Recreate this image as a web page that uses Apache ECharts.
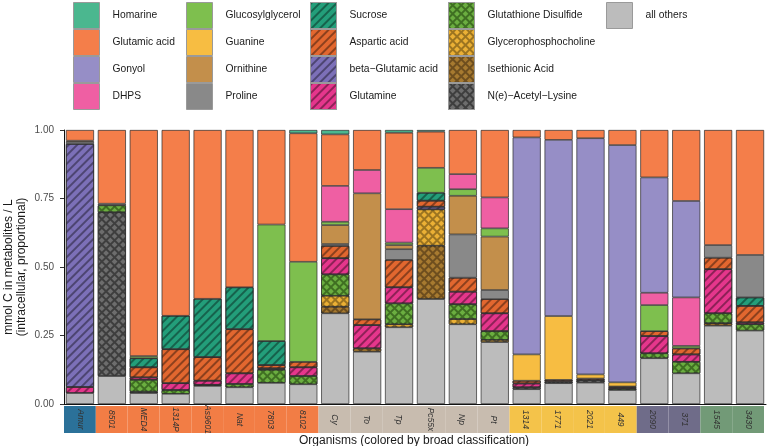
<!DOCTYPE html>
<html><head><meta charset="utf-8">
<script src="https://cdn.jsdelivr.net/npm/echarts@6/dist/echarts.min.js"></script>
<style>html,body{margin:0;padding:0;background:#fff}#c{width:768px;height:446px}</style>
</head><body><div id="c"></div>
<script>
var categories = ['Amur','8501','MED4','1314P','As9601','Nat','7803','8102','Cy','To','Tp','Pc55x','Np','Pt','1314','1771','2021','449','2090','371','1545','3430'];
var groups = ['g1','g2','g2','g2','g2','g2','g2','g2','g3','g3','g3','g3','g3','g3','g4','g4','g4','g4','g5','g5','g6','g6'];
var groupColors = {g1:'#2b7199', g2:'#f27d45', g3:'#c8bcaf', g4:'#f4c34a', g5:'#6f6c89', g6:'#729a77'};

var homarine  = [0,0,0,0,0,0,0,0.012,0.016,0,0.010,0.006,0,0,0,0,0,0,0,0,0,0];
var glutamic  = [0.039,0.269,0.825,0.678,0.616,0.574,0.345,0.469,0.188,0.146,0.279,0.132,0.161,0.246,0.027,0.036,0.030,0.055,0.173,0.259,0.420,0.456];
var gonyol    = [0,0,0,0,0,0,0,0,0,0,0,0,0,0,0.792,0.643,0.862,0.866,0.421,0.352,0,0];
var dhps      = [0,0,0,0,0,0,0,0,0.131,0.085,0.122,0,0.055,0.113,0,0,0,0,0.045,0.177,0,0];
var glucosyl  = [0,0,0.008,0,0,0,0.425,0.365,0.012,0,0.009,0.091,0.024,0.030,0,0,0,0,0.095,0.009,0,0];
var guanine   = [0,0,0,0,0,0,0,0,0,0,0,0,0,0,0.096,0.233,0.015,0.015,0,0,0,0];
var ornithine = [0.004,0,0,0,0,0,0,0,0.069,0.460,0.015,0,0.141,0.195,0,0,0,0,0,0,0,0];
var proline   = [0.008,0.006,0,0,0,0,0,0,0.007,0,0.039,0,0.158,0.033,0,0,0,0,0,0,0.046,0.155];
var sucrose   = [0,0,0.033,0.122,0.213,0.153,0.088,0,0,0,0,0.029,0,0,0,0,0,0,0,0,0,0.031];
var aspartic  = [0,0,0.037,0.124,0.086,0.161,0.012,0.020,0.045,0.021,0.100,0.022,0.051,0.052,0.010,0.006,0.006,0.004,0.018,0.022,0.042,0.060];
var betaGlu   = [0.887,0,0,0,0,0,0.005,0,0,0,0,0.010,0,0,0,0,0,0,0,0,0,0];
var glutamine = [0.022,0,0.009,0.025,0.015,0.039,0,0.032,0.059,0.085,0.059,0,0.046,0.065,0.014,0,0,0.004,0.063,0.027,0.161,0.007];
var gssg      = [0,0.025,0.043,0.014,0.004,0.012,0.048,0.030,0.078,0,0.076,0,0.054,0.032,0,0,0,0.005,0.018,0.042,0.036,0.023];
var gpc       = [0,0,0,0,0,0,0,0,0.040,0,0.011,0.132,0.019,0.008,0,0,0,0,0,0,0,0];
var iseth     = [0,0,0,0,0,0,0,0,0.024,0.012,0,0.195,0,0,0,0,0,0,0,0,0.009,0];
var nacetyl   = [0,0.598,0.005,0,0,0,0,0,0,0,0,0,0,0,0.007,0.006,0.009,0,0,0,0,0];
var others    = [0.040,0.102,0.040,0.037,0.066,0.061,0.077,0.072,0.331,0.191,0.280,0.383,0.291,0.226,0.054,0.076,0.078,0.051,0.167,0.112,0.286,0.268];

var yTicks = [0, 0.25, 0.5, 0.75, 1];

var hatch = function(){ return {symbol:'rect', symbolSize:1, color:'rgba(0,0,0,0.38)', dashArrayX:[1,0], dashArrayY:[1.3,3.6], rotation:-Math.PI/4}; };
var cross = function(base){ return {symbol:'rect', symbolSize:1, color:base, dashArrayX:[3.6,1.1], dashArrayY:[3.6,1.1], rotation:Math.PI/4}; };

// bottom-to-top stacking order
var seriesDefs = [
  {name:'all others', data:others, color:'#bcbcbc'},
  {name:'N(e)\u2212Acetyl\u2212Lysine', data:nacetyl, color:'#3e3e3e', decal:cross('#6d6d6d')},
  {name:'Isethionic Acid', data:iseth, color:'#6e4e1e', decal:cross('#a77a30')},
  {name:'Glycerophosphocholine', data:gpc, color:'#9c7420', decal:cross('#ebb035')},
  {name:'Glutathione Disulfide', data:gssg, color:'#3f6f22', decal:cross('#6bae40')},
  {name:'Glutamine', data:glutamine, color:'#e5368c', decal:hatch()},
  {name:'beta\u2212Glutamic acid', data:betaGlu, color:'#7c70b8', decal:hatch()},
  {name:'Aspartic acid', data:aspartic, color:'#e2672f', decal:hatch()},
  {name:'Sucrose', data:sucrose, color:'#239e7a', decal:hatch()},
  {name:'Proline', data:proline, color:'#898989'},
  {name:'Ornithine', data:ornithine, color:'#c38f4b'},
  {name:'Guanine', data:guanine, color:'#f7bd42'},
  {name:'Glucosylglycerol', data:glucosyl, color:'#7ebf4e'},
  {name:'DHPS', data:dhps, color:'#ef5fa3'},
  {name:'Gonyol', data:gonyol, color:'#968ec6'},
  {name:'Glutamic acid', data:glutamic, color:'#f47e4a'},
  {name:'Homarine', data:homarine, color:'#4bb78f'}
];

var legendCols = [
  {left:73, names:['Homarine','Glutamic acid','Gonyol','DHPS']},
  {left:186, names:['Glucosylglycerol','Guanine','Ornithine','Proline']},
  {left:310, names:['Sucrose','Aspartic acid','beta\u2212Glutamic acid','Glutamine']},
  {left:448, names:['Glutathione Disulfide','Glycerophosphocholine','Isethionic Acid','N(e)\u2212Acetyl\u2212Lysine']},
  {left:606, names:['all others']}
];

var FONT = 'Liberation Sans, Arial, sans-serif';
var series = seriesDefs.map(function(s){
  return {
    type:'bar', name:s.name, stack:'total', xAxisIndex:0, yAxisIndex:0,
    barWidth:'88%',
    data:s.data.map(function(v){ return v === 0 ? '-' : v; }),
    itemStyle:{color:s.color, borderColor:'#2b2b2b', borderWidth:0.7, decal:s.decal || null},
    emphasis:{disabled:true}
  };
});
series.push({
  type:'bar', name:'strip', xAxisIndex:1, yAxisIndex:1, barCategoryGap:0, silent:true,
  data:categories.map(function(c,i){ return {value:1, itemStyle:{color:groupColors[groups[i]]}}; }),
  label:{show:true, position:'inside', rotate:-90, formatter:'{b}', fontSize:8.5, fontStyle:'italic', color:'#333', fontFamily:FONT}
});

var legends = legendCols.map(function(col){
  return {
    data:col.names, orient:'vertical', left:col.left, top:2, itemWidth:26, itemHeight:26, itemGap:0,
    icon:'rect', selectedMode:false, padding:0,
    itemStyle:{borderColor:'#9a9a9a', borderWidth:1},
    textStyle:{fontSize:10.3, color:'#1a1a1a', fontFamily:FONT, padding:[0,0,0,8]}
  };
});

var chart = echarts.init(document.getElementById('c'), null, {renderer:'canvas'});
chart.setOption({
  animation:false,
  aria:{enabled:false},
  textStyle:{fontFamily:FONT},
  legend:legends,
  grid:[
    {left:64, right:2, top:130, bottom:42, outerBoundsMode:'none', containLabel:false},
    {left:64, right:4, top:406, height:27, outerBoundsMode:'none', containLabel:false}
  ],
  xAxis:[
    {type:'category', data:categories, gridIndex:0,
     axisLine:{lineStyle:{color:'#111', width:1}},
     axisTick:{alignWithLabel:true, length:4, lineStyle:{color:'#333'}},
     axisLabel:{show:false}},
    {type:'category', data:categories, gridIndex:1,
     axisLine:{show:false}, axisTick:{show:false}, axisLabel:{show:false},
     name:'Organisms (colored by broad classification)', nameLocation:'middle', nameGap:2,
     nameTextStyle:{fontSize:12, color:'#1a1a1a', fontFamily:FONT}}
  ],
  yAxis:[
    {type:'value', gridIndex:0, min:yTicks[0], max:yTicks[yTicks.length-1], interval:0.25,
     axisLine:{show:true, lineStyle:{color:'#111', width:1}},
     axisTick:{show:true, length:4, lineStyle:{color:'#333'}},
     splitLine:{show:false},
     axisLabel:{fontSize:10, color:'#4d4d4d', margin:10, formatter:function(v){ return v.toFixed(2); }},
     name:'mmol C in metabolites / L\n(intracellular, proportional)', nameLocation:'middle', nameGap:36,
     nameMoveOverlap:false,
     nameTextStyle:{fontSize:12, color:'#1a1a1a', lineHeight:13, fontFamily:FONT}},
    {type:'value', gridIndex:1, min:0, max:1, show:false}
  ],
  series:series
});
</script>
</body></html>
